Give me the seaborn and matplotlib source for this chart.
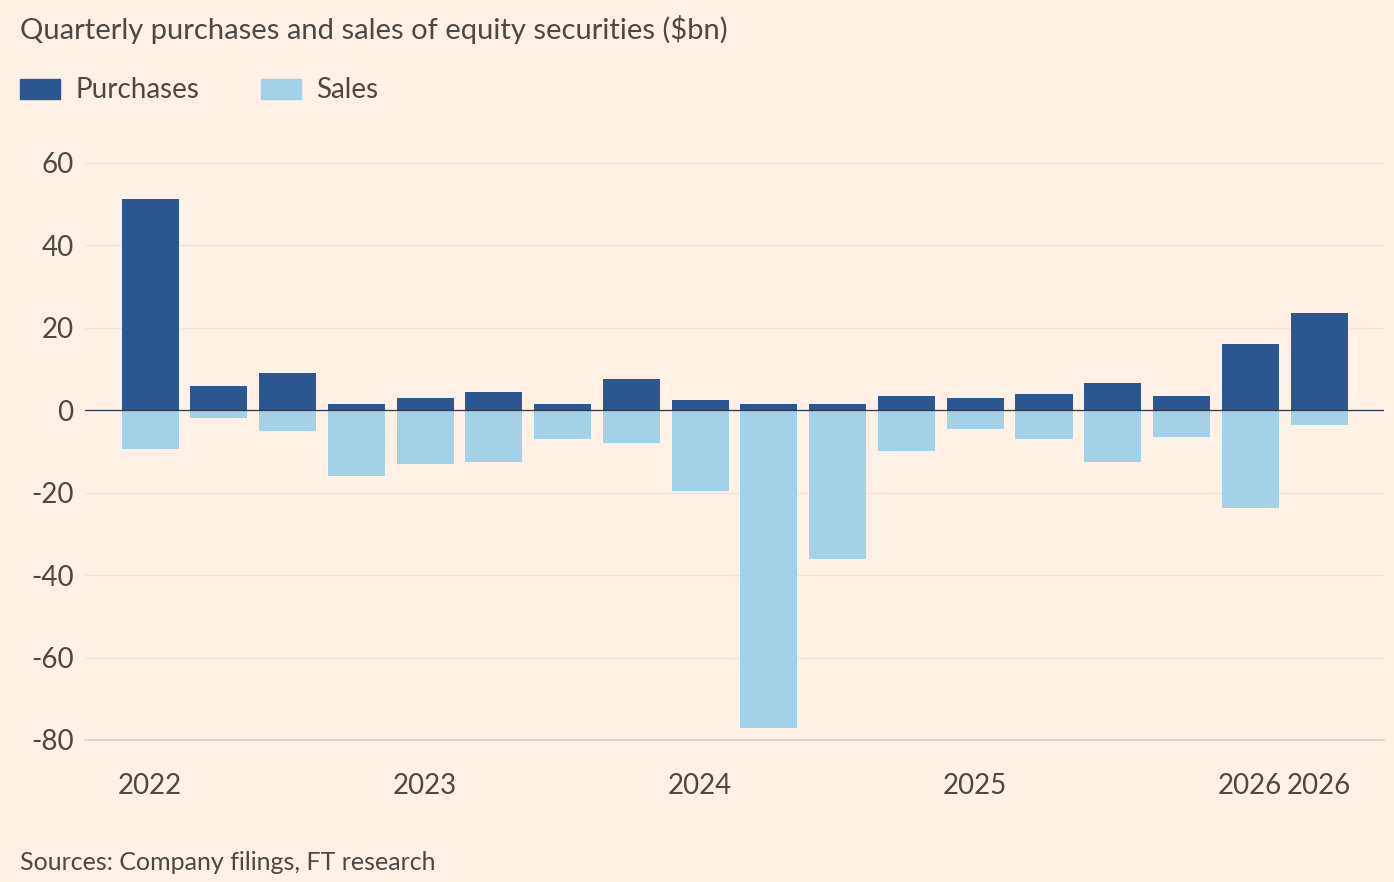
import matplotlib
matplotlib.use("Agg")
import matplotlib.pyplot as plt
import seaborn as sns
import pandas as pd

quarters = list(range(18))
purchases = [51.2, 6, 9, 1.5, 3, 4.5, 1.5, 7.5, 2.5, 1.5, 1.5, 3.5, 3, 4, 6.5, 3.5, 16, 23.5]
sales = [-9.5, -2, -5, -16, -13, -12.5, -7, -8, -19.7, -77, -36, -10, -4.5, -7, -12.5, -6.5, -23.8, -3.5]
tick_labels = {0: "2022", 4: "2023", 8: "2024", 12: "2025", 16: "2026", 17: "2026"}

bg = "#FFF1E5"
dark = "#2B5690"
light = "#A3D2E8"

sns.set_theme(style="white")
plt.rcParams["font.family"] = ["Lato", "DejaVu Sans"]

df = pd.DataFrame({"q": quarters, "Purchases": purchases, "Sales": sales})

fig = plt.figure(figsize=(13.94, 8.82), dpi=100, facecolor=bg)
ax = fig.add_axes([0.0608, 0.161, 0.9323, 0.68])
ax.set_facecolor(bg)

sns.barplot(data=df, x="q", y="Purchases", color=dark, width=0.83, saturation=1, linewidth=0, ax=ax)
sns.barplot(data=df, x="q", y="Sales", color=light, width=0.83, saturation=1, linewidth=0, ax=ax)
ax.axhline(0, color="#2f3a4a", lw=0.9, zorder=3)

ax.set_ylim(-80, 65.5)
ax.set_xlim(-0.95, 17.95)
ax.set_yticks([60, 40, 20, 0, -20, -40, -60, -80])
ax.set_yticklabels(["60", "40", "20", "0", "-20", "-40", "-60", "-80"])
ax.yaxis.grid(True, color="#f0e4d9", lw=1)
ax.set_axisbelow(True)
ax.set_xticks(quarters)
ax.set_xticklabels([tick_labels.get(q, "") for q in quarters])
ax.tick_params(axis="x", length=16, width=1, color="#ddd3ca", labelsize=20, labelcolor="#4d4845", pad=8)
ax.tick_params(axis="y", length=0, labelsize=20, labelcolor="#4d4845", pad=8)
ax.set_xlabel("")
ax.set_ylabel("")
for s in ["top", "right", "left"]:
    ax.spines[s].set_visible(False)
ax.spines["bottom"].set_color("#ddd3ca")

fig.text(0.014, 0.967, "Quarterly purchases and sales of equity securities ($bn)",
         fontsize=21, color="#4d4845", va="center")
fig.patches.append(plt.Rectangle((0.014, 0.888), 0.029, 0.022, color=dark, transform=fig.transFigure))
fig.text(0.054, 0.898, "Purchases", fontsize=20, color="#4d4845", va="center")
fig.patches.append(plt.Rectangle((0.187, 0.888), 0.029, 0.022, color=light, transform=fig.transFigure))
fig.text(0.227, 0.898, "Sales", fontsize=20, color="#4d4845", va="center")
fig.text(0.014, 0.022, "Sources: Company filings, FT research", fontsize=18, color="#4d4845", va="center")

fig.savefig("out.png", facecolor=bg)
